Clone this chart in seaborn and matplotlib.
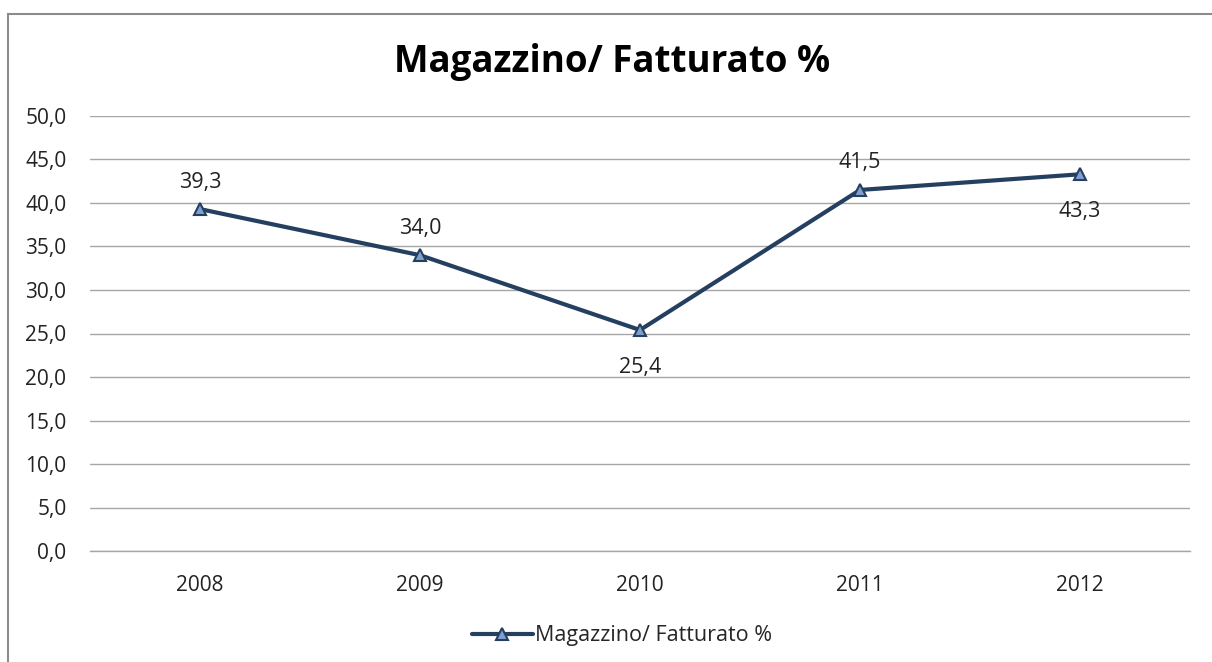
import matplotlib
matplotlib.use('Agg')
import matplotlib.pyplot as plt
import matplotlib.patches as mpatches
import seaborn as sns
import pandas as pd

# data
years = ['2008', '2009', '2010', '2011', '2012']
values = [39.3, 34.0, 25.4, 41.5, 43.3]
label_pos = ['above', 'above', 'below', 'above', 'below']
series_name = 'Magazzino/ Fatturato %'
y_ticks = [0, 5, 10, 15, 20, 25, 30, 35, 40, 45, 50]

df = pd.DataFrame({'anno': years, 'valore': values})

sns.set_theme(style='white')
plt.rcParams['font.family'] = ['Open Sans', 'DejaVu Sans']

line_col = '#243F60'
marker_fill = '#7F9FCF'
grid_col = '#A6A6A6'

fig = plt.figure(figsize=(12.12, 6.62), dpi=100)
ax = fig.add_axes([90 / 1212, 1 - 551 / 662, 1100 / 1212, 435 / 662])

# outer frame of the chart area (right and bottom edges are cut off)
frame = mpatches.Rectangle((8 / 1212, -0.1), 1.2, 1 - 14 / 662 + 0.1,
                           transform=fig.transFigure, fill=False,
                           edgecolor='#8C8C8C', linewidth=1.5, zorder=0)
fig.patches.append(frame)

sns.lineplot(data=df, x='anno', y='valore', ax=ax, color=line_col,
             linewidth=3, marker='^', markersize=9,
             markerfacecolor=marker_fill, markeredgecolor=line_col,
             markeredgewidth=1.5, label=series_name, zorder=3)

ax.set_xlim(-0.5, len(years) - 0.5)
ax.set_ylim(0, 50)
ax.set_yticks(y_ticks)
ax.set_yticklabels([f'{v:.1f}'.replace('.', ',') for v in y_ticks])
ax.set_xlabel('')
ax.set_ylabel('')
ax.grid(axis='y', color=grid_col, linewidth=1)
ax.grid(axis='x', visible=False)
for s in ['top', 'right', 'left']:
    ax.spines[s].set_visible(False)
ax.spines['bottom'].set_color(grid_col)
ax.spines['bottom'].set_linewidth(1)
ax.tick_params(axis='both', length=0, labelsize=15, colors='#222222')
ax.tick_params(axis='y', pad=17)
ax.tick_params(axis='x', pad=17)

for i, (v, p) in enumerate(zip(values, label_pos)):
    off = 27 if p == 'above' else -37
    ax.annotate(f'{v:.1f}'.replace('.', ','), (i, v), xytext=(0, off),
                textcoords='offset pixels', ha='center', va='center',
                fontsize=15.5, color='#222222')

fig.text(612 / 1212, 1 - 62 / 662, 'Magazzino/ Fatturato %', ha='center',
         va='center', fontsize=26.5, fontweight='bold', color='black')

leg_x = (622 - 90) / 1100
leg_y = (1 - 636 / 662 - (1 - 551 / 662)) / (435 / 662)
leg = ax.legend(loc='center', bbox_to_anchor=(leg_x, leg_y),
                frameon=False, fontsize=15.5, handlelength=2.8, handletextpad=0.1)

fig.savefig('out.png', dpi=100, facecolor='white')
